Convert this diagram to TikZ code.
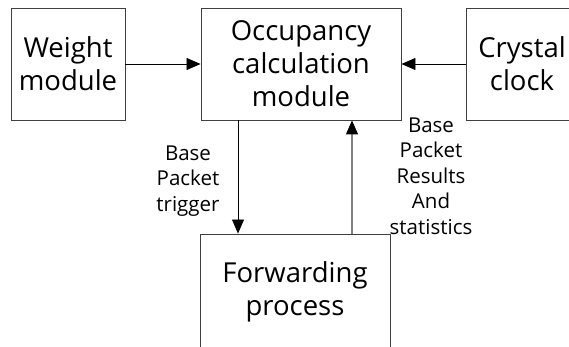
\documentclass[tikz,border=0pt]{standalone}
\usepackage{fontspec}
\setmainfont{Open Sans}
\usetikzlibrary{arrows.meta}
\tikzset{
  block/.style={draw=black!75, line width=0.9pt, rectangle, inner sep=0pt, align=center,
    font=\fontsize{27.5}{33}\selectfont},
  arr/.style={line width=0.8pt, -{Triangle[length=14pt,width=12pt]}},
  grayarr/.style={draw=black!50, line width=1.3pt, -{Triangle[length=14pt,width=12pt,color=black]}},
  lbl/.style={align=center, font=\fontsize{20.5}{25.5}\selectfont, inner sep=0pt}
}
\begin{document}
\begin{tikzpicture}[x=1pt,y=-1pt]
\useasboundingbox (0,0) rectangle (569,347);
\clip (0,0) rectangle (569,347);
\fill[white] (0,0) rectangle (569,347);

\node[block, minimum width=114pt, minimum height=112pt] (weight) at (68,64) {Weight\\module};
\node[block, minimum width=200pt, minimum height=112pt] (occ) at (301,64) {Occupancy\\calculation\\module};
\node[block, minimum width=112pt, minimum height=112pt] (crystal) at (522,64) {Crystal\\clock};
\node[block, minimum width=190pt, minimum height=116pt] (fwd) at (295,292) {Forwarding\\process};

\coordinate (dn) at (238,0);
\coordinate (up) at (352,0);

\draw[arr] (weight.east) -- (occ.west);
\draw[arr] (crystal.west) -- (occ.east);
\draw[arr] (occ.south -| dn) -- (fwd.north -| dn);
\draw[grayarr] (fwd.north -| up) -- (occ.south -| up);

\node[lbl] (trig) at (188,181) {Base\\Packet\\trigger};
\node[lbl] (res) at (431,176) {Base\\Packet\\Results\\And\\statistics};
\end{tikzpicture}
\end{document}
